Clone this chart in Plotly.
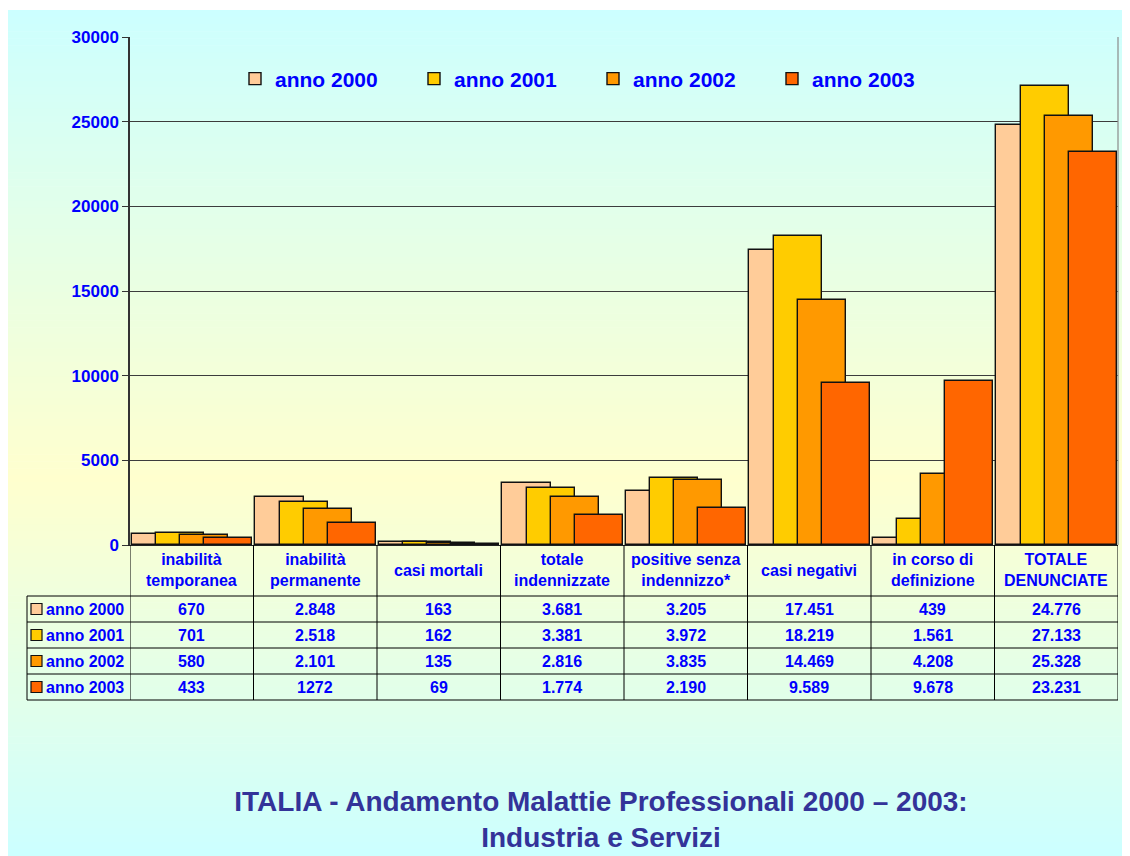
import plotly.graph_objects as go

# ---------------- data ----------------
categories = ["inabilità<br>temporanea", "inabilità<br>permanente", "casi mortali",
              "totale<br>indennizzate", "positive senza<br>indennizzo*", "casi negativi",
              "in corso di<br>definizione", "TOTALE<br>DENUNCIATE"]
series_names = ["anno 2000", "anno 2001", "anno 2002", "anno 2003"]
anno_2000 = [670, 2848, 163, 3681, 3205, 17451, 439, 24776]
anno_2001 = [701, 2518, 162, 3381, 3972, 18219, 1561, 27133]
anno_2002 = [580, 2101, 135, 2816, 3835, 14469, 4208, 25328]
anno_2003 = [433, 1272, 69, 1774, 2190, 9589, 9678, 23231]
series_values = [anno_2000, anno_2001, anno_2002, anno_2003]
y_ticks = [0, 5000, 10000, 15000, 20000, 25000, 30000]
# cells printed without thousands separator in the source table: (series, category)
plain_cells = {(3, 1)}

colors = ["#FFCC99", "#FFCC00", "#FF9900", "#FF6600"]
BLUE = "#0000FF"
TITLE_COLOR = "#333399"
FONT = "Liberation Sans, Arial"

# ---------------- layout geometry ----------------
# page body adds an 8px margin; positions below are given in screen pixels
S = 8
FW, FH = 1122, 848
L, R, T, B = 130 - S, 1118 - S, 37 - S, 545 - S   # plot area in figure pixels
W, H = R - L, B - T


def px(s):
    return (s - S - L) / W


def py(s):
    return (B - (s - S)) / H


def fmt(v, si, ci):
    if (si, ci) in plain_cells or v < 1000:
        return str(v)
    return f"{v:,}".replace(",", ".")


fig = go.Figure()

offsets = [-0.484, -0.289, -0.094, 0.101]
for si, (name, vals) in enumerate(zip(series_names, series_values)):
    fig.add_trace(go.Bar(
        x=list(range(len(categories))), y=vals, name=name,
        width=0.39, offset=offsets[si],
        marker=dict(color=colors[si], line=dict(color="#111111", width=1.4)),
    ))

shapes = []
# background gradient (cyan -> light yellow -> cyan)
top_c = (204, 255, 255)
mid_c = (255, 255, 206)
y_top, y_mid, y_bot = 10, 480, 856
n = 120
for k in range(n):
    a = y_top + (y_bot - y_top) * k / n
    b = y_top + (y_bot - y_top) * (k + 1) / n
    c = (a + b) / 2
    if c <= y_mid:
        f = (c - y_top) / (y_mid - y_top)
        col = [top_c[j] + (mid_c[j] - top_c[j]) * f for j in range(3)]
    else:
        f = (c - y_mid) / (y_bot - y_mid)
        col = [mid_c[j] + (top_c[j] - mid_c[j]) * f for j in range(3)]
    shapes.append(dict(type="rect", xref="paper", yref="paper", layer="below",
                       x0=px(S), x1=px(FW + S), y0=py(b + 0.6), y1=py(a),
                       line=dict(width=0), fillcolor="rgb(%d,%d,%d)" % tuple(int(round(v)) for v in col)))

# right plot border
shapes.append(dict(type="line", xref="paper", yref="paper", x0=1, x1=1, y0=0, y1=1,
                   line=dict(color="#8a8a8a", width=1.2)))

# data table lines
row_lines = [596, 622, 648, 674, 700]
for yl in row_lines:
    shapes.append(dict(type="line", xref="paper", yref="paper", x0=px(27), x1=1,
                       y0=py(yl), y1=py(yl), line=dict(color="#000000", width=1)))
for k in range(len(categories) + 1):
    shapes.append(dict(type="line", xref="x", yref="paper", x0=k - 0.5, x1=k - 0.5,
                       y0=py(545), y1=py(700), line=dict(color="#000000", width=1)))
shapes.append(dict(type="line", xref="paper", yref="paper", x0=px(27), x1=px(27),
                   y0=py(596), y1=py(700), line=dict(color="#000000", width=1)))

annotations = []
# category headers
for ci, cat in enumerate(categories):
    annotations.append(dict(x=ci, y=py(570), xref="x", yref="paper", text="<b>%s</b>" % cat,
                            showarrow=False, xanchor="center", yanchor="middle",
                            font=dict(family=FONT, size=16, color=BLUE)))
# rows
for si, name in enumerate(series_names):
    yc = (row_lines[si] + row_lines[si + 1]) / 2
    shapes.append(dict(type="rect", xref="paper", yref="paper",
                       x0=px(31), x1=px(42), y0=py(yc + 5.5), y1=py(yc - 5.5),
                       fillcolor=colors[si], line=dict(color="#111111", width=1.2)))
    annotations.append(dict(x=px(44), y=py(yc), xref="paper", yref="paper",
                            text="<b>%s</b>" % name, showarrow=False, xanchor="left", yanchor="middle",
                            font=dict(family=FONT, size=16, color=BLUE)))
    for ci, v in enumerate(series_values[si]):
        annotations.append(dict(x=ci, y=py(yc), xref="x", yref="paper",
                                text="<b>%s</b>" % fmt(v, si, ci), showarrow=False,
                                xanchor="center", yanchor="middle",
                                font=dict(family=FONT, size=16, color=BLUE)))

fig.update_layout(
    width=FW, height=FH,
    margin=dict(l=L, r=FW - R, t=T, b=FH - B, pad=0),
    paper_bgcolor="white",
    plot_bgcolor="rgba(0,0,0,0)",
    barmode="overlay",
    showlegend=True,
    legend=dict(orientation="h", x=px(235), y=py(79), xanchor="left", yanchor="middle",
                bgcolor="rgba(0,0,0,0)", entrywidth=134, entrywidthmode="pixels",
                itemwidth=30, traceorder="normal",
                font=dict(family=FONT, size=21, color=BLUE, weight="bold")),
    xaxis=dict(range=[-0.5, len(categories) - 0.5], showticklabels=False, ticks="",
               showgrid=False, zeroline=False, showline=True, linecolor="#222222", linewidth=1.2),
    yaxis=dict(range=[0, 30000], tickvals=y_ticks, tickformat="d", ticks="outside", ticklen=6,
               tickcolor="#333333", showgrid=True, gridcolor="#3c3c3c", gridwidth=1,
               zeroline=False, showline=True, linecolor="#333333", linewidth=1.5,
               tickfont=dict(family=FONT, size=17, color=BLUE, weight="bold")),
    title=dict(text="ITALIA - Andamento Malattie Professionali 2000 – 2003:<br>Industria e Servizi",
               x=(601 - S) / FW, xanchor="center", y=1 - (811 - S) / FH, yanchor="middle",
               yref="container",
               font=dict(family=FONT, size=28, color=TITLE_COLOR, weight="bold")),
    shapes=shapes,
    annotations=annotations,
    bargap=0,
)

fig.write_html("out.html")
